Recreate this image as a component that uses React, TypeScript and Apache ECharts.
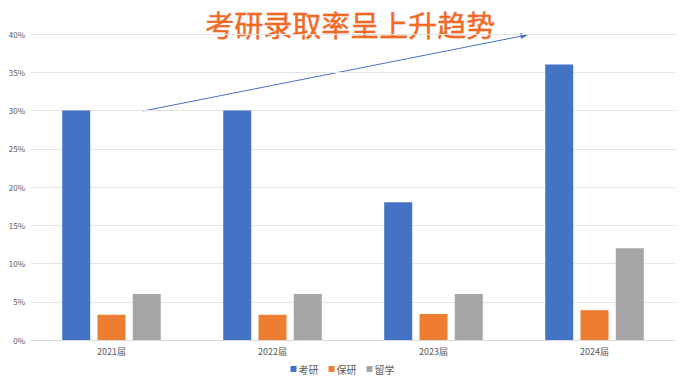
import React, { useEffect, useRef } from "react";
import * as echarts from "echarts";

const categories = ["2021届", "2022届", "2023届", "2024届"];
const kaoyan = [30, 30, 18, 36];
const baoyan = [3.3, 3.3, 3.4, 3.9];
const liuxue = [6, 6, 6, 12];
const seriesNames = ["考研", "保研", "留学"];
const titleText = "考研录取率呈上升趋势";

export default function App() {
  const ref = useRef<HTMLDivElement>(null);
  useEffect(() => {
    if (!ref.current) return;
    const chart = echarts.init(ref.current, undefined, { renderer: "svg" });
    const font = "'Noto Sans CJK SC', 'Noto Sans', sans-serif";
    chart.setOption({
      animation: false,
      textStyle: { fontFamily: font },
      color: ["#4472c4", "#ed7d31", "#a5a5a5"],
      grid: { left: 31, right: 10, top: 34, bottom: 43, containLabel: false },
      legend: {
        bottom: 4,
        left: "center",
        icon: "rect",
        itemWidth: 6,
        itemHeight: 6,
        itemGap: 10,
        textStyle: { fontSize: 10, color: "#595959", padding: [0, 0, 0, -3] },
        data: seriesNames,
      },
      xAxis: {
        type: "category",
        data: categories,
        axisLine: { lineStyle: { color: "#d9d9d9" } },
        axisTick: { show: false },
        axisLabel: { fontSize: 9, color: "#595959", margin: 7 },
      },
      yAxis: {
        type: "value",
        min: 0,
        max: 40,
        interval: 5,
        axisLabel: { formatter: "{value}%", fontSize: 8, color: "#595959", margin: 6 },
        splitLine: { lineStyle: { color: "#e3e3e3" } },
        axisLine: { show: false },
        axisTick: { show: false },
      },
      series: [
        { name: seriesNames[0], type: "bar", data: kaoyan, barWidth: 28, barGap: "26%" },
        { name: seriesNames[1], type: "bar", data: baoyan, barWidth: 28, barGap: "26%" },
        { name: seriesNames[2], type: "bar", data: liuxue, barWidth: 28, barGap: "26%" },
      ],
      graphic: [
        {
          type: "text",
          left: 205,
          top: 9,
          style: {
            text: titleText,
            fontSize: 29,
            fontFamily: font,
            fill: "#f26a1f",
            stroke: "#e8461a",
            lineWidth: 0.4,
          },
        },
        {
          type: "line",
          shape: { x1: 143, y1: 111, x2: 522, y2: 36 },
          style: { stroke: "#4472c4", lineWidth: 1 },
        },
        {
          type: "polygon",
          shape: { points: [[528, 35], [520, 33], [521, 39]] },
          style: { fill: "#4472c4" },
        },
      ],
    });
    return () => chart.dispose();
  }, []);
  return <div ref={ref} style={{ width: 685, height: 383, position: "absolute", left: 0, top: 0 }} />;
}
